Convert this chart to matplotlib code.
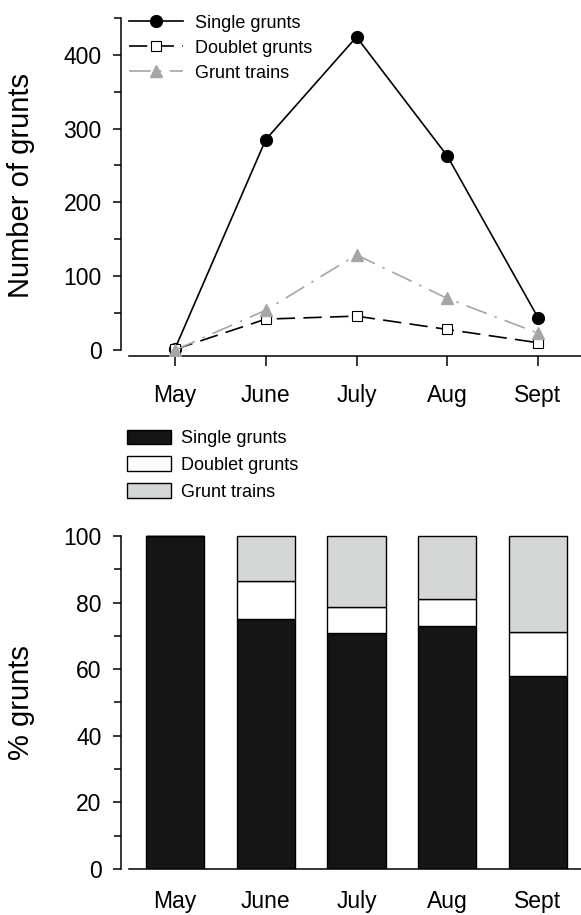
import numpy as np
from matplotlib import pyplot as plt
from matplotlib.ticker import FixedLocator

plt.rcParams['font.family'] = ['Liberation Sans', 'DejaVu Sans']

# grunt counts per month
months = ['May', 'June', 'July', 'Aug', 'Sept']
single_n = [2, 285, 424, 263, 44]
doublet_n = [1, 42, 46, 28, 10]
trains_n = [0, 54, 129, 70, 23]

# percentage of each grunt type per month
single_pct = [100, 75.0, 70.8, 72.9, 57.9]
doublet_pct = [0, 11.5, 8.0, 8.2, 13.4]
trains_pct = [0, 13.5, 21.2, 18.9, 28.7]

x = np.arange(len(months))
xlim = (-0.595, 4.474)
spine_lw = 1.1
tick_fs = 16.5
label_fs = 21
legend_fs = 13


def style_ax(ax):
    ax.spines['top'].set_visible(False)
    ax.spines['right'].set_visible(False)
    for s in ('left', 'bottom'):
        ax.spines[s].set_linewidth(spine_lw)
    ax.tick_params(axis='y', which='major', direction='out', length=6,
                   width=spine_lw, labelsize=tick_fs, pad=8)
    ax.tick_params(axis='y', which='minor', direction='out', length=5,
                   width=spine_lw)


fig = plt.figure(figsize=(5.81, 9.15), dpi=100)

# ---------------- counts ----------------
ax1 = fig.add_axes([0.2083, 0.6109, 0.7917, 0.3705])
ax1.plot(x, single_n, color='black', lw=1.2, marker='o', ms=8.5,
         mfc='black', mec='black', label='Single grunts', zorder=3)
ax1.plot(x, doublet_n, color='black', lw=1.2, dashes=(11, 5), marker='s', ms=7,
         mfc='white', mec='black', mew=0.8, label='Doublet grunts', zorder=4)
ax1.plot(x, trains_n, color='#a6a6a6', lw=1.2, dashes=(13, 5, 1.5, 5), marker='^',
         ms=8, mfc='#a6a6a6', mec='#a6a6a6', label='Grunt trains', zorder=5)

ax1.set_xlim(*xlim)
ax1.set_ylim(-8, 451)
ax1.spines['left'].set_bounds(0, 450)
ax1.spines['bottom'].set_bounds(-0.507, xlim[1])
ax1.set_yticks([0, 100, 200, 300, 400])
ax1.yaxis.set_minor_locator(FixedLocator([50, 150, 250, 350, 450]))
ax1.set_xticks(x)
ax1.set_xticklabels(months)
style_ax(ax1)
ax1.tick_params(axis='x', direction='out', length=7, width=spine_lw,
                labelsize=tick_fs, pad=13)

ax1.legend(loc='upper left', bbox_to_anchor=(129 / 581, 1 - 14.5 / 915),
           bbox_transform=fig.transFigure, frameon=False, fontsize=legend_fs,
           handlelength=3.0, handletextpad=0.67, labelspacing=0.45,
           borderpad=0, borderaxespad=0, numpoints=1)

fig.text(21 / 581, 1 - 186 / 915, 'Number of grunts', rotation=90,
         ha='center', va='center', fontsize=label_fs)

# ---------------- percentages ----------------
ax2 = fig.add_axes([0.2083, 0.0503, 0.7917, 0.3676])
bar_w = 0.64
bottom2 = np.array(single_pct)
bottom3 = bottom2 + np.array(doublet_pct)
ax2.bar(x, single_pct, bar_w, color='#151515', edgecolor='black', lw=1,
        label='Single grunts')
ax2.bar(x, doublet_pct, bar_w, bottom=bottom2, color='white', edgecolor='black',
        lw=1, label='Doublet grunts')
ax2.bar(x, trains_pct, bar_w, bottom=bottom3, color='#d5d7d7', edgecolor='black',
        lw=1, label='Grunt trains')

ax2.set_xlim(*xlim)
ax2.set_ylim(0, 101)
ax2.spines['left'].set_bounds(0, 100)
ax2.spines['bottom'].set_bounds(-0.507, xlim[1])
ax2.set_yticks([0, 20, 40, 60, 80, 100])
ax2.yaxis.set_minor_locator(FixedLocator([10, 30, 50, 70, 90]))
ax2.set_xticks(x)
ax2.set_xticklabels(months)
style_ax(ax2)
ax2.tick_params(axis='x', length=0, labelsize=tick_fs, pad=15)

ax2.legend(loc='upper left', bbox_to_anchor=(127 / 581, 1 - 429.5 / 915),
           bbox_transform=fig.transFigure, frameon=False, fontsize=legend_fs,
           handlelength=2.44, handleheight=0.89, handletextpad=0.55,
           labelspacing=0.5, borderpad=0, borderaxespad=0)

fig.text(21 / 581, 1 - 703 / 915, '% grunts', rotation=90,
         ha='center', va='center', fontsize=label_fs)

plt.savefig('out.png', dpi=100)
